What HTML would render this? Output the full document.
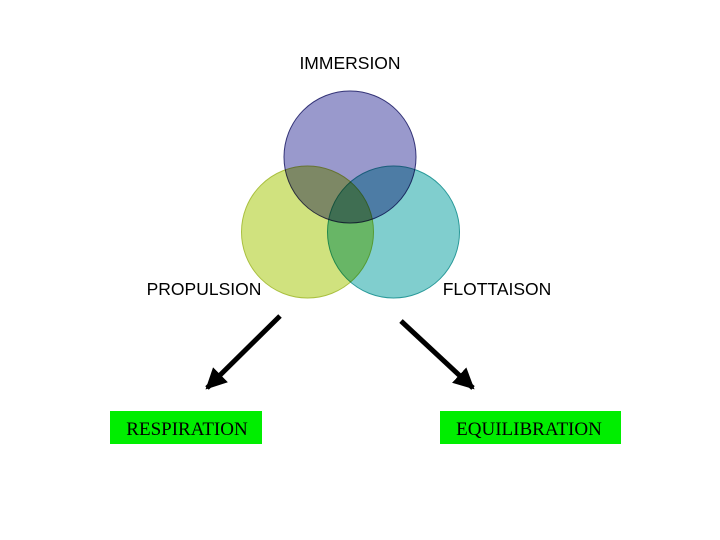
<!DOCTYPE html>
<html><head><meta charset="utf-8"><style>
html,body{margin:0;padding:0;background:#fff;}
body{width:720px;height:540px;overflow:hidden;position:relative;}
.m{mix-blend-mode:multiply;}
</style></head><body>
<svg width="720" height="540" viewBox="0 0 720 540" xmlns="http://www.w3.org/2000/svg" style="position:absolute;left:0;top:0;isolation:isolate">
<defs>
<marker id="ah" viewBox="0 0 10 10" refX="9" refY="5" markerWidth="4.2" markerHeight="4.2" orient="auto" markerUnits="strokeWidth">
<path d="M0,0 L10,5 L0,10 z" fill="#000"/>
</marker>
</defs>
<rect x="0" y="0" width="720" height="540" fill="#fff"/>
<circle class="m" cx="350" cy="157" r="66" fill="#9999cc" stroke="#333377" stroke-width="1"/>
<circle class="m" cx="307.5" cy="232" r="66" fill="#d0e27e" stroke="#aac040" stroke-width="1"/>
<circle class="m" cx="393.5" cy="232" r="66" fill="#80cece" stroke="#2a9a9a" stroke-width="1"/>
<line x1="280" y1="316" x2="207" y2="388" stroke="#000" stroke-width="5" marker-end="url(#ah)"/>
<line x1="401" y1="321" x2="473" y2="388" stroke="#000" stroke-width="5" marker-end="url(#ah)"/>
<rect x="110" y="411" width="152" height="33" fill="#00ee00"/>
<rect x="440" y="411" width="181" height="33" fill="#00ee00"/>
<g font-family="Liberation Sans, sans-serif" font-size="17.5" fill="#000" text-anchor="middle">
<text x="350" y="69">IMMERSION</text>
<text x="204" y="295">PROPULSION</text>
<text x="497" y="295">FLOTTAISON</text>
</g>
<g font-family="Liberation Serif, serif" font-size="19" fill="#000" text-anchor="middle">
<text x="187" y="435">RESPIRATION</text>
<text x="529" y="435">EQUILIBRATION</text>
</g>
</svg>
</body></html>
